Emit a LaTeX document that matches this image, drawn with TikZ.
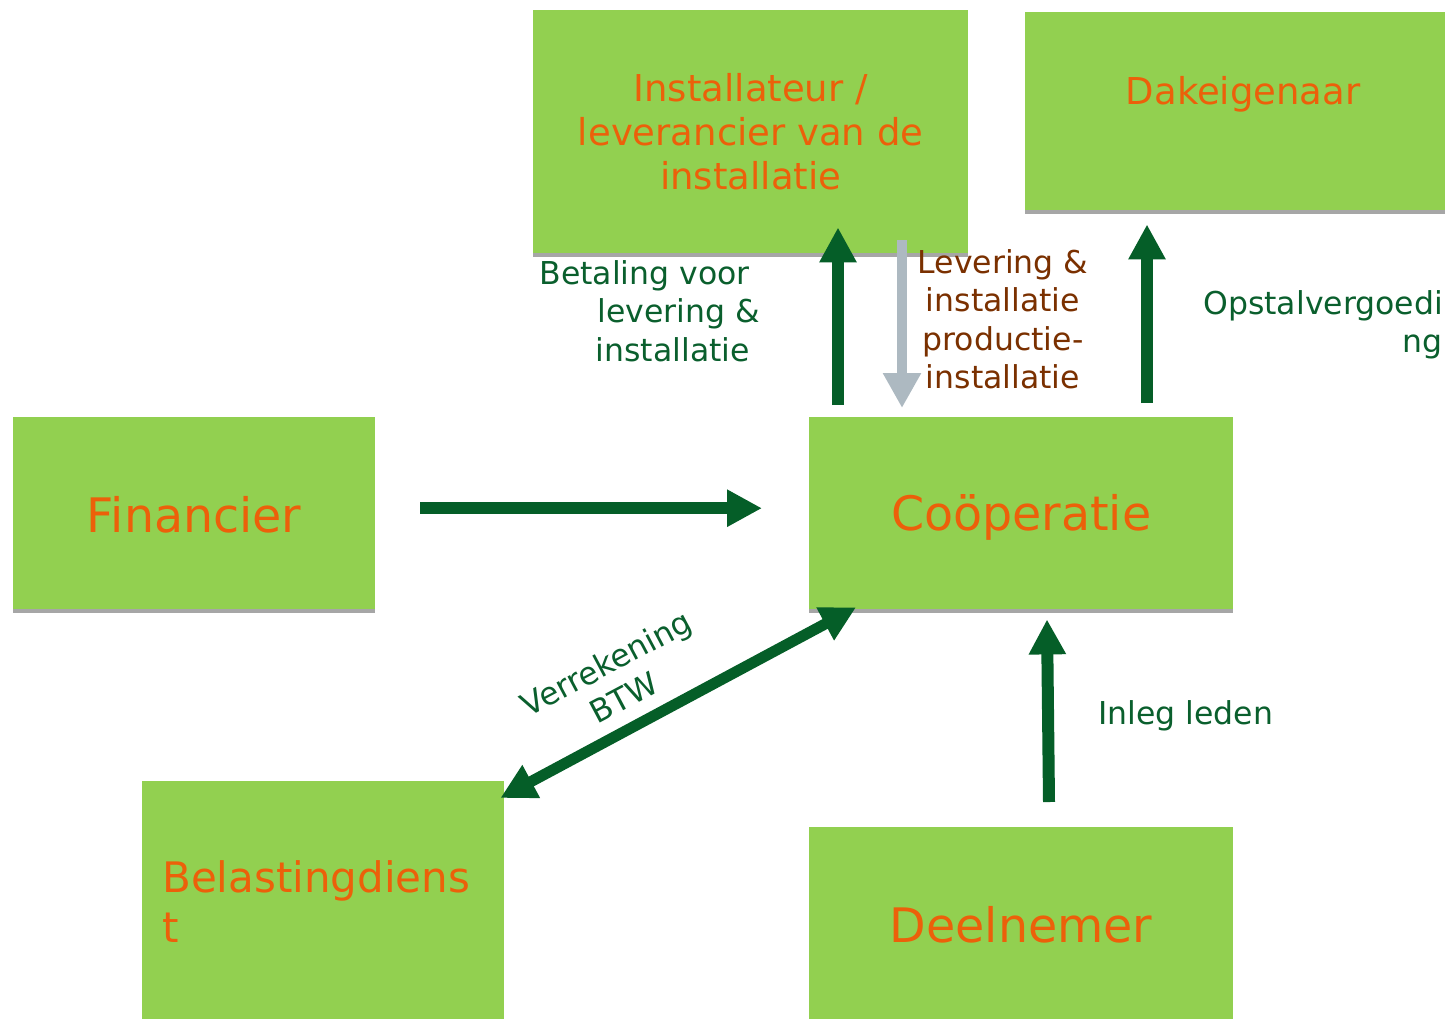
\documentclass[tikz,border=0pt]{standalone}
\usepackage{fontspec}
\setmainfont{DejaVu Sans}
\usetikzlibrary{arrows.meta,shadows}
\definecolor{boxgreen}{RGB}{146,208,80}
\definecolor{boxorange}{RGB}{236,96,10}
\definecolor{arrgreen}{RGB}{5,94,40}
\definecolor{lblgreen}{RGB}{10,95,45}
\definecolor{lblbrown}{RGB}{122,48,0}
\definecolor{arrgray}{RGB}{173,185,193}
\definecolor{shadowgray}{RGB}{166,166,166}
\begin{document}
\begin{tikzpicture}[x=1pt,y=-1pt,
  box/.style={fill=boxgreen, inner sep=0pt, anchor=north west, text=boxorange, align=center},
  shad/.style={general shadow={fill=shadowgray, shadow yshift=-4pt}},
  bigtxt/.style={font=\fontsize{47.5}{56}\selectfont},
  midtxt/.style={font=\fontsize{37}{44}\selectfont},
  lbl/.style={font=\fontsize{31.5}{38.5}\selectfont, inner sep=0pt},
  flow/.style={draw=arrgreen, line width=12pt, -{Triangle[width=35pt,length=35pt]}},
  grayflow/.style={draw=arrgray, line width=10pt, -{Triangle[width=36pt,length=35pt]}},
  dflow/.style={draw=arrgreen, line width=11pt, {Triangle[width=35pt,length=35pt]}-{Triangle[width=35pt,length=35pt]}}
]
\useasboundingbox (0,0) rectangle (1445,1018);

% boxes
\node[box, shad, midtxt, minimum width=435pt, minimum height=243pt] (inst) at (533,10)
  {Installateur /\\leverancier van de\\installatie};
\node[box, shad, minimum width=436pt, minimum height=198pt,
  label={[midtxt, text=boxorange, yshift=17pt]center:Dakeigenaar}] (dak) at (1025,12) {};
\node[box, shad, bigtxt, minimum width=362pt, minimum height=192pt, text height=40pt] (fin) at (13,417) {Financier};
\node[box, shad, bigtxt, minimum width=424pt, minimum height=192pt, text height=45pt] (coop) at (809,417) {Coöperatie};
\node[box, minimum width=362pt, minimum height=250pt,
  label={[anchor=north west, align=left, inner sep=0pt, text=boxorange,
          font=\fontsize{42}{50}\selectfont, xshift=20pt, yshift=-79pt]north west:Belastingdiens\\t}] (bel) at (142,781) {};
\node[box, bigtxt, minimum width=424pt, minimum height=196pt] (deel) at (809,827) {Deelnemer};

% labels
\node[lbl, text=lblgreen, align=right, anchor=east] (betl) at (760,311)
  {Betaling voor\kern10pt\\levering \&\\installatie\kern10pt};
\node[lbl, text=lblbrown, align=center] (levl) at (1003,319)
  {Levering \&\\installatie\\productie-\\installatie};
\node[lbl, text=lblgreen, align=right, anchor=east] (opsl) at (1443,325)
  {Opstalvergoedi\\ng};
\node[lbl, text=lblgreen, anchor=west] (inll) at (1098,716) {Inleg leden};
\node[lbl, text=lblgreen, align=center, rotate=28] (verl) at (615,680) {Verrekening\\BTW};

% connectors
\draw[flow] ([shift={(45,-5)}]fin.east) -- ([shift={(-47,-5)}]coop.west);
\draw[flow] ([shift={(29,-12)}]coop.north west) -- ([shift={(305,-26)}]inst.south west);
\draw[grayflow] ([shift={(369,-13)}]inst.south west) -- ([shift={(93,-9)}]coop.north west);
\draw[flow] ([shift={(338,-14)}]coop.north west) -- ([shift={(122,14)}]dak.south west);
\draw[flow] ([shift={(240,-25)}]deel.north west) -- ([shift={(238,10)}]coop.south west);
\draw[dflow] ([shift={(-4,17)}]bel.north east) -- ([shift={(47,-2)}]coop.south west);
\end{tikzpicture}
\end{document}
